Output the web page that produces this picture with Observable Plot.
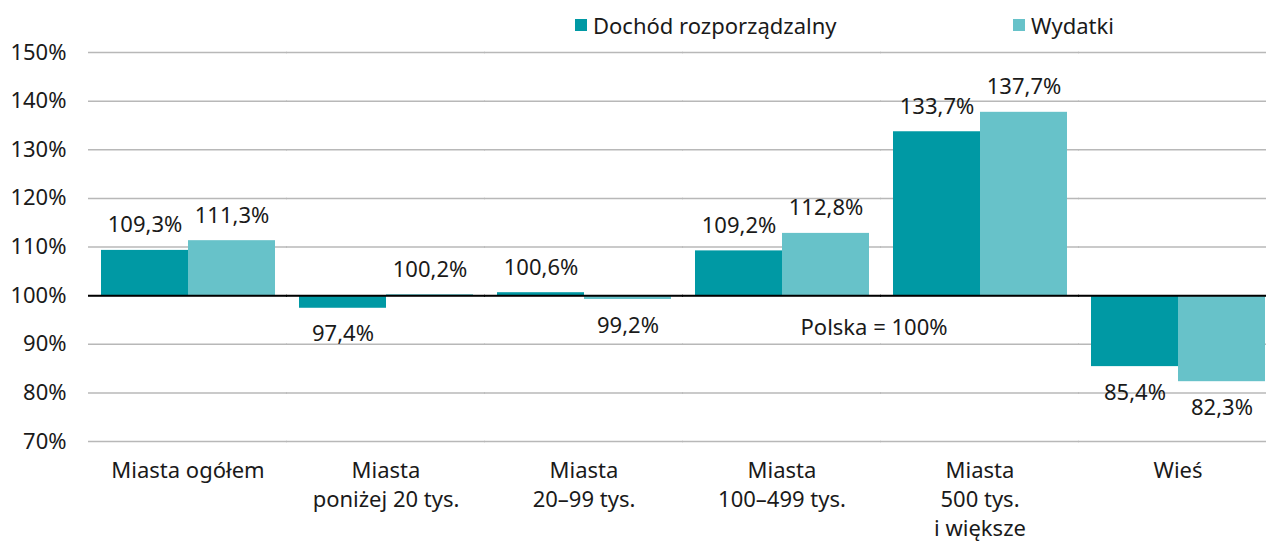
<!DOCTYPE html>
<html><head><meta charset="utf-8">
<script src="https://cdn.jsdelivr.net/npm/d3@7"></script>
<script src="https://cdn.jsdelivr.net/npm/@observablehq/plot@0.6"></script>
<style>
body{margin:0;background:#fff;overflow:hidden;font-family:"Noto Sans",sans-serif;}
#wrap{position:relative;width:1266px;height:543px;overflow:hidden}
#legend{position:absolute;top:10px;left:0;width:1266px;height:30px;font-size:22px;color:#1a1a1a}
.item{position:absolute;top:0;display:flex;align-items:center;height:30px;white-space:nowrap}
.sw{display:inline-block;width:12px;height:12px;margin-right:6px}
</style></head><body>
<div id="wrap"><div id="legend"></div></div>
<script>
const categories = ["Miasta ogółem", "Miasta\nponiżej 20 tys.", "Miasta\n20–99 tys.", "Miasta\n100–499 tys.", "Miasta\n500 tys.\ni większe", "Wieś"];
const series = ["Dochód rozporządzalny", "Wydatki"];
const dochod = [109.3, 97.4, 100.6, 109.2, 133.7, 85.4];
const wydatki = [111.3, 100.2, 99.2, 112.8, 137.7, 82.3];
const yTicks = [70, 80, 90, 100, 110, 120, 130, 140, 150];
const colors = ["#0099a4", "#67c2c9"];
const baseline = 100;
const note = "Polska = 100%";

const data = categories.flatMap((c, i) => [
  {cat: c, series: series[0], value: dochod[i]},
  {cat: c, series: series[1], value: wydatki[i]}
]);
const fmt = v => v.toFixed(1).replace(".", ",") + "%";

const chart = Plot.plot({
  width: 1266, height: 543,
  marginLeft: 87, marginRight: -12, marginTop: 52, marginBottom: 102,
  style: {fontFamily: "'Noto Sans', sans-serif", fontSize: "22px", color: "#1a1a1a", background: "transparent"},
  fx: {domain: categories, paddingInner: 0.115, paddingOuter: 0.058, label: null},
  x: {domain: series, padding: 0, axis: null},
  y: {domain: [70, 150], label: null},
  color: {domain: series, range: colors},
  marks: [
    Plot.ruleY(yTicks, {stroke: "#b8b8b8", strokeWidth: 1.5, insetLeft: -12, insetRight: -12}),
    Plot.barY(data, {fx: "cat", x: "series", y1: baseline, y2: "value", fill: "series"}),
    Plot.ruleY([baseline], {stroke: "#000", strokeWidth: 2, insetLeft: -12, insetRight: -12}),
    Plot.text(data.filter(d => d.value >= baseline), {fx: "cat", x: "series", y: "value", text: d => fmt(d.value), dy: -25, fill: "#1a1a1a"}),
    Plot.text(data.filter(d => d.value < baseline), {fx: "cat", x: "series", y: "value", text: d => fmt(d.value), dy: 26, fill: "#1a1a1a"}),
    Plot.text([note], {fx: () => categories[3], x: () => series[1], y: () => baseline, text: d => d, dx: 48, dy: 32, fill: "#1a1a1a"}),
    Plot.axisY(yTicks, {tickSize: 0, tickPadding: 34, tickFormat: d => d + "%", label: null}),
    Plot.axisFx({anchor: "bottom", tickSize: 0, tickPadding: 16, lineHeight: 1.31, label: null, textAnchor: "middle"})
  ]
});
document.getElementById("wrap").prepend(chart);

const legend = document.getElementById("legend");
const legendX = [575, 1013];
series.forEach((s, i) => {
  const it = document.createElement("div");
  it.className = "item";
  it.style.left = legendX[i] + "px";
  it.innerHTML = `<span class="sw" style="background:${colors[i]}"></span>${s}`;
  legend.appendChild(it);
});
</script>
</body></html>
